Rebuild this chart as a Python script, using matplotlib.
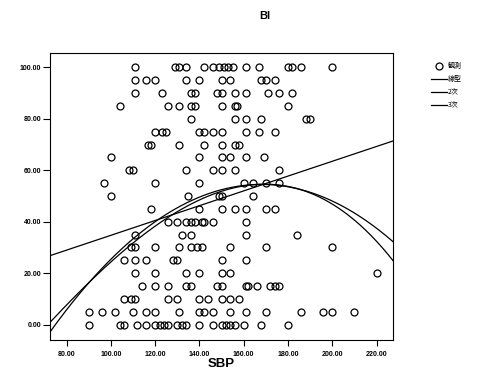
import numpy as np
import matplotlib
matplotlib.use("Agg")
import matplotlib.pyplot as plt
from matplotlib.lines import Line2D

# SBP values of the observations, grouped by BI score
bi_levels = [100, 95, 90, 85, 80, 75, 70, 65, 60, 55, 50, 45, 40, 35, 30, 25, 20, 15, 10, 5, 0]
sbp_by_level = [
    [111, 129, 131, 134, 142, 146, 149, 151, 153, 155, 161, 167, 180, 182, 186, 200],
    [111, 116, 120, 134, 140, 150, 154, 168, 170, 174],
    [111, 123, 136, 138, 148, 150, 156, 161, 171, 176, 182],
    [104, 126, 131, 136, 138, 150, 156, 157, 180],
    [136, 156, 161, 168, 188, 190],
    [120, 123, 125, 140, 142, 146, 150, 161, 167, 174],
    [117, 118, 131, 142, 150, 156, 158],
    [100, 140, 150, 154, 161, 169],
    [108, 110, 134, 146, 150, 156, 176],
    [97, 120, 140, 160, 164, 170, 176],
    [100, 135, 149, 150, 164],
    [118, 140, 150, 156, 161, 170, 174],
    [126, 130, 134, 136, 138, 141, 142, 146, 161],
    [111, 132, 136, 161, 184],
    [109, 111, 120, 131, 136, 139, 141, 154, 170, 200],
    [106, 111, 116, 128, 130, 150, 161],
    [111, 120, 134, 140, 150, 154, 220],
    [114, 120, 126, 134, 136, 148, 150, 161, 162, 166, 172, 174, 176],
    [106, 109, 111, 126, 130, 140, 144, 150, 154, 158],
    [90, 96, 102, 110, 116, 120, 131, 140, 142, 146, 154, 161, 170, 186, 196, 200, 210],
    [90, 104, 106, 112, 116, 120, 122, 124, 126, 130, 132, 134, 140, 146, 150, 152,
     154, 156, 160, 168, 180],
]

# fitted model coefficients (highest power first, in terms of SBP - 150),
# read off the curves in the original output
sbp_center = 150.0
coef_linear = [0.288, 49.1]
coef_quad = [-0.0063, 0.2268, 52.46]
coef_cubic = [-2.014e-5, -0.006499, 0.2758, 51.84]

x_ticks = [80, 100, 120, 140, 160, 180, 200, 220]
y_ticks = [0, 20, 40, 60, 80, 100]
legend_labels = ["観測", "線型", "2次", "3次"]

sbp = np.array([v for row in sbp_by_level for v in row], dtype=float)
bi = np.array([lvl for lvl, row in zip(bi_levels, sbp_by_level) for _ in row], dtype=float)

fig = plt.figure(figsize=(4.8, 3.79), dpi=100)
ax = fig.add_axes([0.104, 0.103, 0.715, 0.757])

ax.plot(sbp, bi, "o", ms=5, mfc="none", mec="black", mew=0.9, zorder=3)

xlim = (72.5, 227.5)
xx = np.linspace(xlim[0], xlim[1], 300)
for coef in (coef_linear, coef_quad, coef_cubic):
    ax.plot(xx, np.polyval(coef, xx - sbp_center), color="black", lw=0.9, zorder=2)

ax.set_xlim(*xlim)
ax.set_ylim(-6, 105.6)
ax.set_xticks(x_ticks)
ax.set_yticks(y_ticks)
ax.set_xticklabels([f"{v:.2f}" for v in x_ticks], fontsize=5, family="Liberation Sans", weight="bold")
ax.set_yticklabels([f"{v:.2f}" for v in y_ticks], fontsize=5, family="Liberation Sans", weight="bold")
ax.tick_params(axis="x", length=4, width=0.8, pad=4)
ax.tick_params(axis="y", length=5, width=0.8, pad=1.5)
for s in ax.spines.values():
    s.set_linewidth(0.8)

ax.set_xlabel("SBP", fontsize=9.5, family="Liberation Sans", weight="bold", labelpad=0)
fig.text(0.552, 0.958, "BI", fontsize=8, family="Liberation Sans", weight="bold", ha="center", va="center")

handles = [
    Line2D([], [], marker="o", ls="none", ms=5, mfc="none", mec="black", mew=0.9),
    Line2D([], [], color="black", lw=0.9),
    Line2D([], [], color="black", lw=0.9),
    Line2D([], [], color="black", lw=0.9),
]
fig.legend(handles, legend_labels, loc="upper left", bbox_to_anchor=(0.89, 0.845),
           frameon=False, prop={"family": ["Noto Sans CJK JP", "DejaVu Sans"], "size": 5},
           handlelength=2.3, handletextpad=0.1, labelspacing=0.75, borderpad=0)

fig.savefig("out.png", dpi=100)
